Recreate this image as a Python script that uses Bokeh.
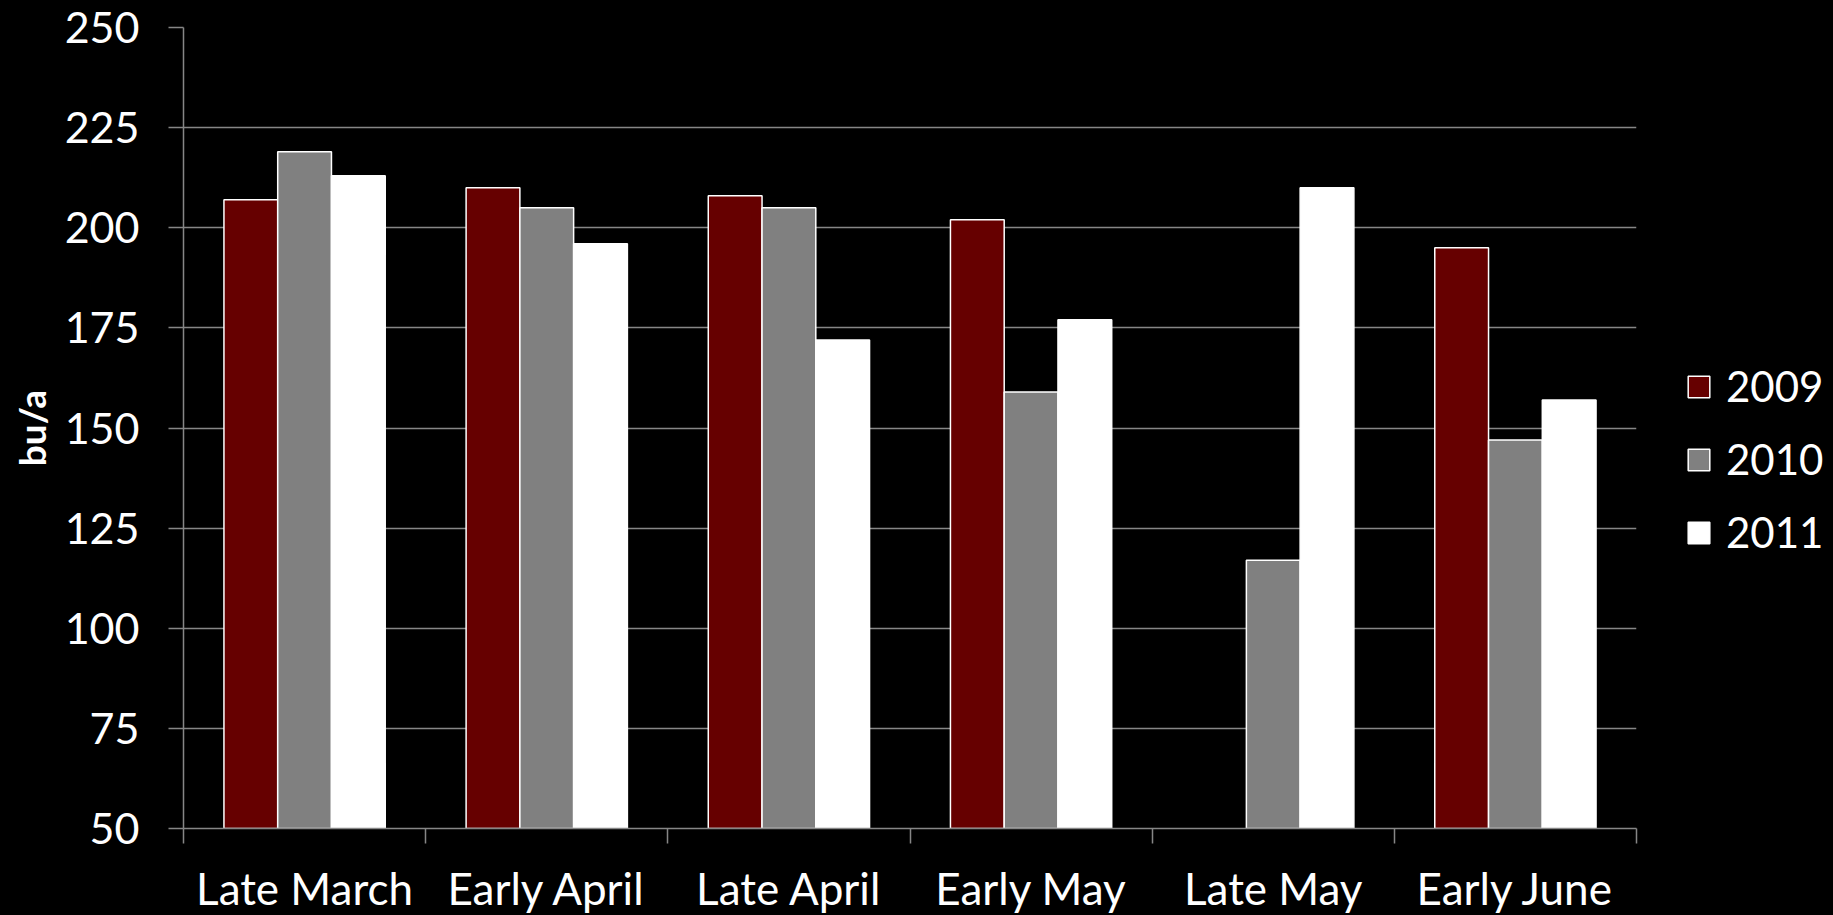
import math
from bokeh.plotting import figure
from bokeh.models import FixedTicker, Legend, LegendItem, Range1d, ColumnDataSource
from bokeh.transform import dodge
from bokeh.embed import file_html
from bokeh.resources import INLINE

categories = ["Late March", "Early April", "Late April", "Early May", "Late May", "Early June"]
years = ["2009", "2010", "2011"]
y2009 = [207, 210, 208, 202, float("nan"), 195]
y2010 = [219, 205, 205, 159, 117, 147]
y2011 = [213, 196, 172, 177, 210, 157]
y_ticks = [50, 75, 100, 125, 150, 175, 200, 225, 250]

colors = ["#660000", "#808080", "#ffffff"]
FONT = "Lato"
GRID = "#868686"

xc = [i + 0.5 for i in range(len(categories))]
src = ColumnDataSource(dict(x=xc, y2009=y2009, y2010=y2010, y2011=y2011))

p = figure(width=1817, height=899, output_backend="svg", toolbar_location=None,
           x_range=Range1d(0, len(categories)), y_range=Range1d(50, 250),
           min_border_left=183, min_border_right=181, min_border_top=27, min_border_bottom=71,
           frame_width=1453, frame_height=801)
p.background_fill_color = "black"
p.border_fill_color = "black"
p.outline_line_color = None

bw = 0.222
renderers = []
for k, (yr, col) in enumerate(zip(years, colors)):
    r = p.vbar(x=dodge("x", (k - 1) * bw, range=p.x_range), top="y" + yr, bottom=50,
               width=bw, source=src, fill_color=col, line_color="white", line_width=1.5)
    renderers.append(r)

# y axis
p.yaxis.ticker = FixedTicker(ticks=y_ticks)
p.yaxis.axis_line_color = GRID
p.yaxis.axis_line_width = 1.5
p.yaxis.major_tick_line_color = GRID
p.yaxis.major_tick_line_width = 1.5
p.yaxis.major_tick_out = 15
p.yaxis.major_tick_in = 0
p.yaxis.minor_tick_line_color = None
p.yaxis.major_label_text_font = FONT
p.yaxis.major_label_text_font_size = "43px"
p.yaxis.major_label_text_color = "white"
p.yaxis.major_label_standoff = 29
p.yaxis.axis_label = "bu/a"
p.yaxis.axis_label_text_font = FONT
p.yaxis.axis_label_text_font_style = "bold"
p.yaxis.axis_label_text_font_size = "37px"
p.yaxis.axis_label_text_color = "white"
p.yaxis.axis_label_standoff = 8

# x axis: labels at category centers, ticks at boundaries
p.xaxis.ticker = FixedTicker(ticks=xc, minor_ticks=list(range(len(categories) + 1)))
p.xaxis.major_label_overrides = {x: c for x, c in zip(xc, categories)}
p.xaxis.axis_line_color = GRID
p.xaxis.axis_line_width = 1.5
p.xaxis.major_tick_line_color = None
p.xaxis.major_tick_out = 15
p.xaxis.major_tick_in = 0
p.xaxis.minor_tick_line_color = GRID
p.xaxis.minor_tick_line_width = 1.5
p.xaxis.minor_tick_out = 15
p.xaxis.minor_tick_in = 0
p.xaxis.major_label_text_font = FONT
p.xaxis.major_label_text_font_size = "44px"
p.xaxis.major_label_text_color = "white"
p.xaxis.major_label_standoff = 18

p.xgrid.grid_line_color = None
p.ygrid.ticker = FixedTicker(ticks=y_ticks)
p.ygrid.grid_line_color = GRID
p.ygrid.grid_line_width = 1.5

legend = Legend(items=[LegendItem(label=yr, renderers=[r]) for yr, r in zip(years, renderers)],
                location=(49, 271), orientation="vertical",
                label_text_font=FONT, label_text_font_size="42px", label_text_color="white",
                glyph_width=27, glyph_height=27, label_height=50, label_standoff=14,
                spacing=23, padding=0, margin=0,
                background_fill_alpha=0, border_line_color=None)
p.add_layout(legend, "right")

html = file_html(p, INLINE)
html = html.replace("<head>", "<head><style>html,body{background:#000;}</style>", 1)
open("out.html", "w").write(html)
